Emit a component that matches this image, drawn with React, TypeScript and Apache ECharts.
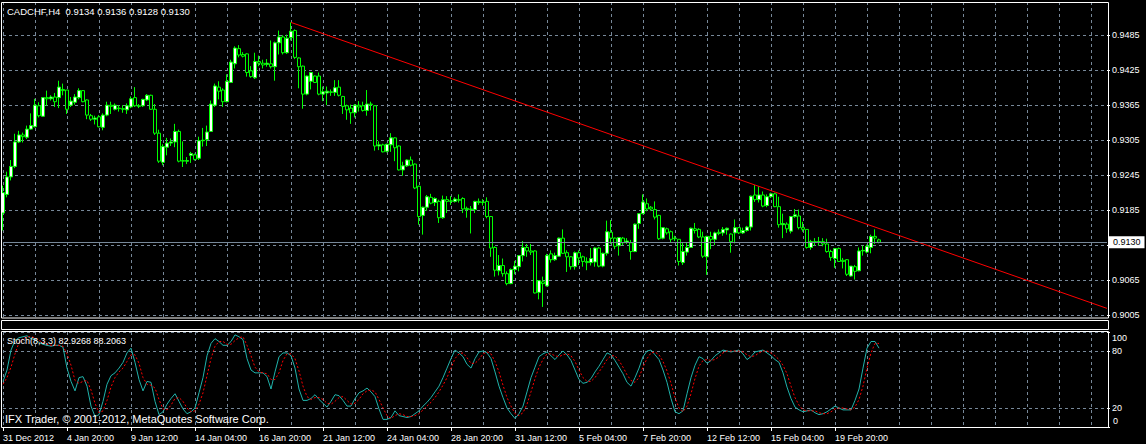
import React, { useEffect, useRef } from "react";
import * as echarts from "echarts";

const openP = [
  0.9180,0.9212,0.9242,0.9260,0.9302,0.9314,0.9310,0.9324,0.9328,0.9364,
  0.9346,0.9378,0.9376,0.9379,0.9378,0.9392,0.9391,0.9365,0.9370,0.9378,
  0.9390,0.9374,0.9347,0.9341,0.9345,0.9327,0.9348,0.9365,0.9358,0.9360,
  0.9359,0.9357,0.9362,0.9378,0.9364,0.9364,0.9374,0.9382,0.9358,0.9317,
  0.9267,0.9293,0.9300,0.9302,0.9320,0.9270,0.9269,0.9279,0.9280,0.9274,
  0.9304,0.9306,0.9320,0.9365,0.9396,0.9391,0.9371,0.9404,0.9436,0.9462,
  0.9452,0.9453,0.9424,0.9412,0.9440,0.9437,0.9435,0.9436,0.9431,0.9472,
  0.9482,0.9455,0.9481,0.9493,0.9446,0.9432,0.9384,0.9406,0.9415,0.9415,
  0.9384,0.9386,0.9388,0.9387,0.9396,0.9380,0.9364,0.9360,0.9352,0.9365,
  0.9364,0.9356,0.9367,0.9364,0.9295,0.9297,0.9286,0.9297,0.9309,0.9295,
  0.9254,0.9261,0.9271,0.9264,0.9226,0.9176,0.9190,0.9207,0.9198,0.9200,
  0.9172,0.9203,0.9201,0.9200,0.9203,0.9205,0.9188,0.9187,0.9186,0.9200,
  0.9199,0.9200,0.9174,0.9121,0.9081,0.9090,0.9076,0.9059,0.9083,0.9088,
  0.9107,0.9121,0.9115,0.9115,0.9044,0.9062,0.9055,0.9110,0.9100,0.9106,
  0.9137,0.9112,0.9105,0.9088,0.9112,0.9105,0.9097,0.9095,0.9096,0.9120,
  0.9089,0.9111,0.9147,0.9137,0.9124,0.9137,0.9130,0.9129,0.9114,0.9162,
  0.9179,0.9196,0.9190,0.9186,0.9176,0.9137,0.9153,0.9148,0.9137,0.9135,
  0.9095,0.9113,0.9121,0.9153,0.9152,0.9139,0.9105,0.9140,0.9135,0.9147,
  0.9146,0.9151,0.9144,0.9146,0.9155,0.9146,0.9150,0.9156,0.9211,0.9203,
  0.9211,0.9193,0.9208,0.9213,0.9191,0.9160,0.9161,0.9149,0.9174,0.9175,
  0.9155,0.9152,0.9121,0.9131,0.9130,0.9131,0.9127,0.9114,0.9102,0.9119,
  0.9099,0.9100,0.9072,0.9088,0.9081,0.9115,0.9113,0.9121,0.9140,0.9134
];
const highP = [
  0.9227,0.9251,0.9271,0.9316,0.9321,0.9318,0.9330,0.9351,0.9376,0.9370,
  0.9379,0.9390,0.9382,0.9386,0.9407,0.9402,0.9391,0.9379,0.9384,0.9394,
  0.9391,0.9375,0.9350,0.9347,0.9348,0.9351,0.9371,0.9371,0.9368,0.9365,
  0.9365,0.9368,0.9380,0.9396,0.9367,0.9376,0.9384,0.9383,0.9367,0.9323,
  0.9298,0.9309,0.9308,0.9333,0.9323,0.9303,0.9276,0.9285,0.9282,0.9311,
  0.9326,0.9330,0.9373,0.9402,0.9406,0.9394,0.9418,0.9443,0.9466,0.9468,
  0.9456,0.9454,0.9432,0.9455,0.9450,0.9443,0.9444,0.9476,0.9474,0.9493,
  0.9485,0.9486,0.9507,0.9495,0.9447,0.9433,0.9416,0.9422,0.9416,0.9421,
  0.9397,0.9397,0.9392,0.9408,0.9408,0.9381,0.9366,0.9366,0.9367,0.9372,
  0.9371,0.9391,0.9371,0.9365,0.9303,0.9299,0.9299,0.9317,0.9310,0.9296,
  0.9268,0.9272,0.9277,0.9265,0.9227,0.9191,0.9211,0.9213,0.9207,0.9203,
  0.9210,0.9209,0.9209,0.9207,0.9212,0.9207,0.9191,0.9192,0.9201,0.9205,
  0.9204,0.9207,0.9175,0.9123,0.9108,0.9102,0.9080,0.9085,0.9098,0.9108,
  0.9132,0.9127,0.9127,0.9116,0.9065,0.9071,0.9110,0.9116,0.9112,0.9138,
  0.9152,0.9116,0.9106,0.9114,0.9116,0.9107,0.9104,0.9120,0.9121,0.9122,
  0.9112,0.9167,0.9168,0.9138,0.9139,0.9139,0.9137,0.9134,0.9162,0.9180,
  0.9212,0.9205,0.9192,0.9200,0.9177,0.9156,0.9155,0.9150,0.9141,0.9135,
  0.9130,0.9129,0.9155,0.9163,0.9154,0.9148,0.9141,0.9148,0.9148,0.9152,
  0.9156,0.9155,0.9145,0.9169,0.9156,0.9155,0.9158,0.9210,0.9228,0.9226,
  0.9217,0.9212,0.9215,0.9215,0.9208,0.9179,0.9164,0.9175,0.9187,0.9186,
  0.9165,0.9152,0.9134,0.9137,0.9139,0.9137,0.9136,0.9117,0.9120,0.9121,
  0.9103,0.9101,0.9089,0.9091,0.9121,0.9124,0.9126,0.9143,0.9152,0.9136
];
const lowP = [
  0.9150,0.9207,0.9236,0.9257,0.9300,0.9301,0.9307,0.9323,0.9327,0.9344,
  0.9345,0.9364,0.9373,0.9362,0.9360,0.9382,0.9350,0.9362,0.9366,0.9375,
  0.9370,0.9341,0.9338,0.9332,0.9327,0.9322,0.9346,0.9350,0.9356,0.9354,
  0.9352,0.9350,0.9360,0.9362,0.9360,0.9362,0.9372,0.9357,0.9314,0.9266,
  0.9262,0.9279,0.9295,0.9293,0.9267,0.9259,0.9264,0.9266,0.9270,0.9271,
  0.9294,0.9295,0.9319,0.9362,0.9375,0.9362,0.9370,0.9403,0.9428,0.9447,
  0.9447,0.9414,0.9412,0.9410,0.9432,0.9428,0.9431,0.9428,0.9407,0.9452,
  0.9452,0.9453,0.9476,0.9444,0.9394,0.9359,0.9382,0.9392,0.9403,0.9382,
  0.9372,0.9365,0.9381,0.9381,0.9380,0.9350,0.9340,0.9333,0.9344,0.9354,
  0.9354,0.9347,0.9356,0.9287,0.9288,0.9284,0.9284,0.9285,0.9269,0.9253,
  0.9244,0.9259,0.9260,0.9221,0.9160,0.9143,0.9184,0.9195,0.9192,0.9163,
  0.9170,0.9180,0.9194,0.9198,0.9198,0.9180,0.9172,0.9145,0.9180,0.9194,
  0.9193,0.9171,0.9105,0.9071,0.9073,0.9071,0.9056,0.9058,0.9075,0.9080,
  0.9097,0.9105,0.9108,0.9042,0.9032,0.9019,0.9054,0.9095,0.9098,0.9105,
  0.9110,0.9079,0.9083,0.9083,0.9091,0.9088,0.9082,0.9090,0.9088,0.9087,
  0.9087,0.9107,0.9127,0.9118,0.9107,0.9125,0.9127,0.9100,0.9113,0.9153,
  0.9178,0.9183,0.9184,0.9169,0.9134,0.9135,0.9143,0.9129,0.9132,0.9090,
  0.9091,0.9107,0.9121,0.9145,0.9137,0.9103,0.9074,0.9118,0.9125,0.9142,
  0.9141,0.9143,0.9112,0.9128,0.9144,0.9144,0.9148,0.9150,0.9199,0.9198,
  0.9190,0.9190,0.9206,0.9190,0.9155,0.9137,0.9146,0.9145,0.9172,0.9152,
  0.9148,0.9119,0.9117,0.9124,0.9124,0.9123,0.9112,0.9098,0.9086,0.9096,
  0.9085,0.9072,0.9071,0.9066,0.9080,0.9107,0.9111,0.9111,0.9127,0.9128
];
const closeP = [
  0.9215,0.9242,0.9260,0.9302,0.9314,0.9311,0.9324,0.9330,0.9365,0.9347,
  0.9378,0.9376,0.9379,0.9371,0.9396,0.9390,0.9358,0.9372,0.9379,0.9390,
  0.9371,0.9348,0.9341,0.9343,0.9328,0.9348,0.9365,0.9363,0.9365,0.9359,
  0.9358,0.9364,0.9376,0.9364,0.9363,0.9375,0.9382,0.9358,0.9317,0.9269,
  0.9294,0.9300,0.9302,0.9320,0.9269,0.9269,0.9270,0.9282,0.9272,0.9304,
  0.9305,0.9319,0.9367,0.9398,0.9389,0.9371,0.9406,0.9439,0.9463,0.9451,
  0.9449,0.9421,0.9414,0.9440,0.9437,0.9434,0.9437,0.9431,0.9472,0.9482,
  0.9455,0.9480,0.9492,0.9447,0.9431,0.9384,0.9415,0.9421,0.9404,0.9384,
  0.9388,0.9389,0.9387,0.9395,0.9382,0.9363,0.9357,0.9352,0.9365,0.9362,
  0.9356,0.9367,0.9366,0.9295,0.9297,0.9285,0.9298,0.9309,0.9292,0.9254,
  0.9261,0.9271,0.9262,0.9223,0.9174,0.9190,0.9208,0.9197,0.9205,0.9172,
  0.9203,0.9200,0.9200,0.9204,0.9202,0.9187,0.9186,0.9186,0.9200,0.9198,
  0.9198,0.9174,0.9120,0.9082,0.9090,0.9076,0.9059,0.9083,0.9089,0.9107,
  0.9121,0.9115,0.9113,0.9043,0.9064,0.9059,0.9107,0.9100,0.9107,0.9137,
  0.9111,0.9105,0.9088,0.9112,0.9103,0.9097,0.9095,0.9102,0.9120,0.9089,
  0.9111,0.9148,0.9137,0.9123,0.9138,0.9129,0.9132,0.9114,0.9161,0.9179,
  0.9199,0.9187,0.9187,0.9173,0.9136,0.9155,0.9146,0.9135,0.9136,0.9097,
  0.9114,0.9121,0.9154,0.9150,0.9139,0.9106,0.9140,0.9135,0.9146,0.9145,
  0.9152,0.9154,0.9131,0.9155,0.9146,0.9150,0.9156,0.9209,0.9203,0.9211,
  0.9192,0.9208,0.9213,0.9191,0.9160,0.9162,0.9153,0.9174,0.9177,0.9155,
  0.9152,0.9121,0.9131,0.9130,0.9131,0.9127,0.9114,0.9104,0.9119,0.9097,
  0.9097,0.9075,0.9089,0.9080,0.9115,0.9116,0.9123,0.9140,0.9137,0.9130
];

const stochMain = [
  48,60,81,91,94,95,96,93,92,89,
  87,86,85,86,86,84,62,48,38,52,
  53,43,22,11,13,27,45,54,57,62,
  68,78,83,68,50,38,48,47,27,13,
  16,24,30,35,27,19,14,16,20,36,
  52,75,88,93,90,86,86,90,97,95,
  92,72,60,57,57,57,53,40,58,74,
  78,78,75,62,40,28,28,30,34,29,
  25,21,27,34,33,28,22,22,30,36,
  38,41,37,32,19,8,8,10,17,12,
  11,10,11,14,17,22,26,31,37,43,
  52,62,72,81,78,74,66,62,72,79,
  80,78,72,58,43,31,20,14,9,14,
  22,37,52,63,74,77,79,75,71,76,
  80,76,70,60,50,46,47,51,58,64,
  71,78,76,70,63,56,47,43,52,62,
  74,80,81,76,71,60,47,30,16,14,
  17,35,52,65,74,72,67,70,75,78,
  81,80,79,80,81,77,71,74,79,80,
  81,78,75,71,68,57,42,30,21,18,
  16,17,18,15,13,14,16,19,22,20,
  18,18,18,28,40,62,83,90,90,83
];
const stochSignal = [
  45,52,63,77,89,93,95,95,94,91,
  89,87,86,86,86,85,77,65,49,46,
  48,49,39,25,15,17,28,42,52,58,
  62,69,76,76,67,52,45,44,41,29,
  19,18,23,30,31,27,20,16,17,24,
  36,54,72,85,90,90,87,87,91,94,
  95,86,75,63,58,57,56,50,50,57,
  70,77,77,72,59,43,32,29,31,31,
  29,25,24,27,31,32,28,24,25,29,
  35,38,39,37,29,20,12,9,12,14,
  13,11,11,12,14,18,22,26,31,37,
  44,52,62,72,77,78,73,67,67,71,
  77,79,77,69,58,44,31,22,14,12,
  15,24,37,51,63,71,77,77,75,74,
  76,77,75,69,60,52,48,48,52,58,
  64,71,75,75,70,63,55,49,47,52,
  63,72,78,79,76,69,59,46,31,20,
  16,22,35,51,64,70,71,70,71,74,
  78,80,80,80,80,79,76,74,75,78,
  80,80,78,75,71,65,56,43,31,23,
  18,17,17,17,15,14,14,16,19,20,
  20,19,18,21,29,43,62,78,88,88
];

const xTickLabels = [
  "31 Dec 2012", "4 Jan 20:00", "9 Jan 12:00", "14 Jan 04:00", "16 Jan 20:00",
  "21 Jan 12:00", "24 Jan 04:00", "28 Jan 20:00", "31 Jan 12:00", "5 Feb 04:00",
  "7 Feb 20:00", "12 Feb 12:00", "15 Feb 04:00", "19 Feb 20:00"
];
const priceTicks = [0.9005, 0.9065, 0.9125, 0.9185, 0.9245, 0.9305, 0.9365, 0.9425, 0.9485];
const stochTicks = [0, 20, 80, 100];
const trendLine = [[72, 0.9507], [276, 0.90165]];
const bidPrice = 0.913;
const totalSlots = 277;

const FONT = '"Liberation Sans", Arial, sans-serif';
const GRID_C = "#778899";

export default function App() {
  const ref = useRef<HTMLDivElement>(null);
  useEffect(() => {
    document.body.style.margin = "0";
    document.body.style.background = "#000";
    if (!ref.current) return;
    const chart = echarts.init(ref.current, null, { renderer: "svg" });
    const cats = Array.from({ length: totalSlots }, (_, i) => String(i));
    const candleData = openP.map((o, i) => [o, closeP[i], lowP[i], highP[i]]);
    const labelIdx = (i: number) => i % 16 === 0 && i / 16 < xTickLabels.length;
    const dashed = { color: GRID_C, type: [3, 3] as any, width: 1 };
    const option: any = {
      animation: false,
      backgroundColor: "#000",
      grid: [
        { left: 3, top: 2, width: 1104, height: 316 },
        { left: 3, top: 332, width: 1104, height: 95 },
      ],
      xAxis: [
        {
          type: "category", gridIndex: 0, data: cats, boundaryGap: false,
          axisLine: { show: false }, axisTick: { show: false }, axisLabel: { show: false },
          splitLine: { show: true, interval: (i: number) => i % 8 === 0, lineStyle: dashed },
        },
        {
          type: "category", gridIndex: 1, data: cats, boundaryGap: false,
          axisLine: { show: false },
          axisTick: { show: true, interval: labelIdx, length: 4, lineStyle: { color: "#fff" } },
          axisLabel: {
            show: true, interval: labelIdx, color: "#fff", fontSize: 9, fontFamily: FONT,
            align: "left", margin: 6,
            formatter: (_v: string, i: number) => (labelIdx(i) ? xTickLabels[i / 16] : ""),
          },
          splitLine: { show: true, interval: (i: number) => i % 8 === 0, lineStyle: dashed },
        },
      ],
      yAxis: [
        {
          type: "value", gridIndex: 0, position: "right", min: 0.9, max: 0.9542,
          axisLine: { show: false },
          axisTick: { show: true, customValues: priceTicks, length: 3, lineStyle: { color: "#fff" } },
          axisLabel: {
            customValues: priceTicks, color: "#fff", fontSize: 9, fontFamily: FONT, margin: 5,
            formatter: (v: number) => (Math.abs(v - 0.9125) < 1e-6 ? "" : v.toFixed(4)),
          },
          splitLine: { show: true, lineStyle: dashed },
        },
        {
          type: "value", gridIndex: 1, position: "right", min: 0, max: 100,
          axisLine: { show: false },
          axisTick: { show: true, customValues: stochTicks, length: 3, lineStyle: { color: "#fff" } },
          axisLabel: {
            customValues: stochTicks, color: "#fff", fontSize: 9, fontFamily: FONT, margin: 5,
            showMinLabel: true, showMaxLabel: true,
            formatter: (v: number) => (v === 0 ? "" : v === 100 ? "{hi|100}" : String(v)),
            rich: {
              hi: { color: "#fff", fontSize: 9, fontFamily: FONT, padding: [12, 0, 0, 0] },
            },
          },
          splitLine: { show: true, lineStyle: dashed },
        },
      ],
      series: [
        {
          type: "candlestick", xAxisIndex: 0, yAxisIndex: 0, data: candleData, barWidth: 3,
          itemStyle: { color: "#ffffff", color0: "#000000", borderColor: "#00ff00", borderColor0: "#00ff00", borderWidth: 1 },
        },
        {
          type: "line", xAxisIndex: 0, yAxisIndex: 0, data: trendLine, symbol: "none",
          lineStyle: { color: "#ff0000", width: 1 }, silent: true, z: 3,
          markLine: {
            silent: true, symbol: ["none", "none"], precision: 4,
            lineStyle: { color: GRID_C, type: "solid", width: 1 },
            label: {
              show: true, position: "end", formatter: bidPrice.toFixed(4), color: "#000",
              backgroundColor: "#fff", padding: [2, 4, 1, 4], fontSize: 9, fontFamily: FONT, distance: 2,
            },
            data: [{ yAxis: bidPrice }],
          },
        },
        {
          type: "line", xAxisIndex: 1, yAxisIndex: 1, data: stochMain, symbol: "none",
          lineStyle: { color: "#20b2aa", width: 1 }, silent: true,
        },
        {
          type: "line", xAxisIndex: 1, yAxisIndex: 1, data: stochSignal, symbol: "none",
          lineStyle: { color: "#ff0000", width: 1, type: [2, 2] }, silent: true,
        },
      ],
      graphic: [
        { type: "rect", z: 100, shape: { x: 1.5, y: 2.5, width: 1107, height: 315.5 }, style: { fill: "none", stroke: "#fff", lineWidth: 1 } },
        { type: "rect", z: 100, shape: { x: 1.5, y: 320.5, width: 1107, height: 9 }, style: { fill: "none", stroke: "#fff", lineWidth: 1 } },
        { type: "rect", z: 100, shape: { x: 1.5, y: 331.5, width: 1107, height: 96 }, style: { fill: "none", stroke: "#fff", lineWidth: 1 } },
        { type: "text", z: 100, x: 7, y: 11, style: { text: "CADCHF,H4  0.9134 0.9136 0.9128 0.9130", fill: "#fff", font: `9.5px ${FONT}`, textVerticalAlign: "middle" } },
        { type: "text", z: 100, x: 7, y: 341, style: { text: "Stoch(8,3,3) 82.9268 88.2063", fill: "#fff", font: `9px ${FONT}`, textVerticalAlign: "middle" } },
        { type: "text", z: 100, x: 5, y: 418.5, style: { text: "IFX Trader, © 2001-2012, MetaQuotes Software Corp.", fill: "#fff", font: `11px ${FONT}`, textVerticalAlign: "middle" } },
        { type: "text", z: 100, x: 1113, y: 421, style: { text: "0", fill: "#fff", font: `9px ${FONT}`, textVerticalAlign: "middle" } },
      ],
    };
    chart.setOption(option);
    return () => chart.dispose();
  }, []);
  return <div ref={ref} style={{ position: "absolute", left: 0, top: 0, width: 1146, height: 444, background: "#000" }} />;
}
